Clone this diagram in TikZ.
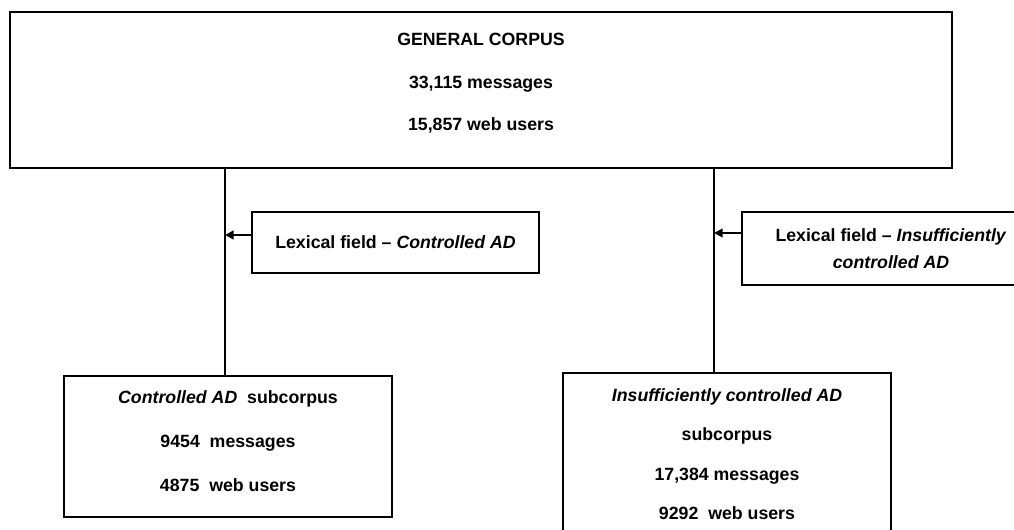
\documentclass[tikz,border=0pt]{standalone}
\usepackage{fontspec}
\setmainfont{Liberation Sans}
\usetikzlibrary{arrows.meta}

\tikzset{every picture/.style={line width=1.8pt}}
\tikzset{
  corpusbox/.style={draw, align=center, inner sep=0pt, font=\bfseries\fontsize{13.3}{32}\selectfont},
  fieldbox/.style={draw, align=center, inner sep=0pt, font=\bfseries\fontsize{13.3}{20}\selectfont},
  fieldarrow/.style={-{Triangle[length=6.5pt,width=6.5pt]}},
}

\begin{document}
\begin{tikzpicture}[x=0.75pt,y=0.75pt,yscale=-1,xscale=1]
\useasboundingbox (0,0) rectangle (1014,530);
\clip (0,0) rectangle (1014,530);

% Text Node
\node[corpusbox, minimum width=706.5pt, minimum height=117pt, text depth=12pt] (general) at (481,90) {GENERAL CORPUS\\33,115 messages\\15,857 web users};
% Text Node
\node[fieldbox, minimum width=215.25pt, minimum height=45.75pt] (lexctl) at (395.5,242.5) {Lexical field -- \textit{Controlled AD}};
% Text Node
\node[fieldbox, minimum width=223.5pt, minimum height=54.75pt] (lexins) at (891,248.5) {Lexical field -- \textit{Insufficiently}\\\textit{controlled AD}};
% Text Node
\node[corpusbox, minimum width=246pt, minimum height=105.75pt, text depth=7.5pt, font=\bfseries\fontsize{13.3}{33}\selectfont] (ctlsub) at (228,446.5) {\textit{Controlled AD}~ subcorpus\\9454~ messages\\4875~ web users};
% Text Node
\node[corpusbox, minimum width=246pt, minimum height=121.5pt, font=\bfseries\fontsize{13.3}{29.5}\selectfont] (inssub) at (727,454) {\textit{Insufficiently controlled AD}\\subcorpus\\17,384 messages\\9292~ web users};

% Connection
\coordinate (stemL) at (225,235);
\coordinate (stemR) at (714,233);
\draw (general.south -| stemL) -- (ctlsub.north -| stemL);
\draw (general.south -| stemR) -- (inssub.north -| stemR);
% Connection
\draw[fieldarrow] (lexctl.west |- stemL) -- (stemL);
\draw[fieldarrow] (lexins.west |- stemR) -- (stemR);

\end{tikzpicture}
\end{document}
